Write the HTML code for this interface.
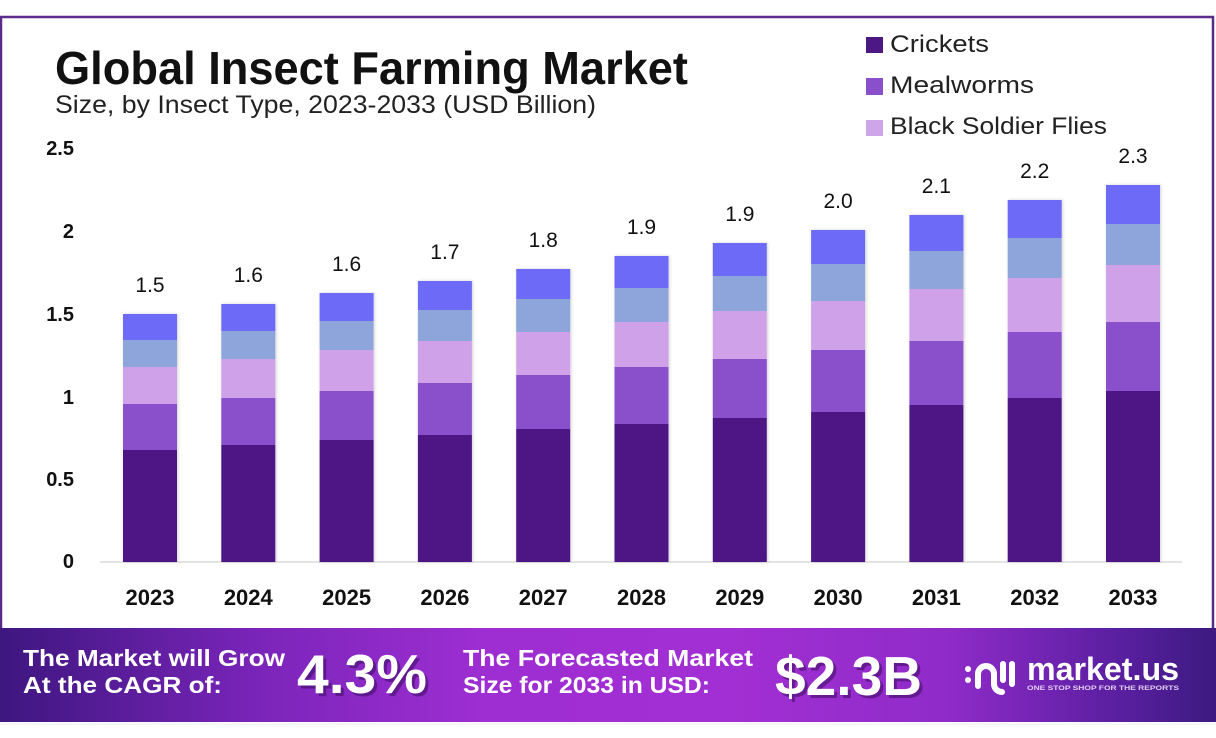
<!DOCTYPE html>
<html><head><meta charset="utf-8"><style>
html,body{margin:0;padding:0;background:#fff;}
svg{display:block;}
text{font-family:"Liberation Sans",Arial,sans-serif;}
</style></head><body>
<svg width="1216" height="738" viewBox="0 0 1216 738" xmlns="http://www.w3.org/2000/svg">
<defs>
<linearGradient id="bn" x1="0" y1="0" x2="1" y2="0">
<stop offset="0" stop-color="#3e1680"/>
<stop offset="0.22" stop-color="#7c25bb"/>
<stop offset="0.4" stop-color="#9e2ed2"/>
<stop offset="0.6" stop-color="#a22fd3"/>
<stop offset="0.78" stop-color="#8f2bc9"/>
<stop offset="0.92" stop-color="#5a1fa0"/>
<stop offset="1" stop-color="#3c1a80"/>
</linearGradient>
<filter id="sh" x="-20%" y="-5%" width="140%" height="110%">
<feDropShadow dx="1" dy="0" stdDeviation="1.5" flood-color="#000" flood-opacity="0.18"/>
</filter>
</defs>
<rect width="1216" height="738" fill="#fff"/>
<!-- frame -->
<path d="M1 628 V17 H1213 V628" fill="none" stroke="#5b2a8a" stroke-width="2.5"/>

<!-- title -->
<text x="55" y="84" font-size="46" font-weight="bold" fill="#111" textLength="633" lengthAdjust="spacingAndGlyphs">Global Insect Farming Market</text>
<text x="55" y="113" font-size="25" fill="#222" textLength="541" lengthAdjust="spacingAndGlyphs">Size, by Insect Type, 2023-2033 (USD Billion)</text>

<!-- legend -->
<rect x="866" y="37" width="17" height="16" fill="#4d1784"/>
<text x="890" y="52" font-size="24" fill="#222" textLength="99" lengthAdjust="spacingAndGlyphs">Crickets</text>
<rect x="866" y="78" width="17" height="17" fill="#8a4fcb"/>
<text x="890" y="93" font-size="24" fill="#222" textLength="144" lengthAdjust="spacingAndGlyphs">Mealworms</text>
<rect x="866" y="120" width="17" height="16" fill="#cfa5ea"/>
<text x="890" y="134" font-size="24" fill="#222" textLength="217" lengthAdjust="spacingAndGlyphs">Black Soldier Flies</text>

<!-- y axis labels -->
<g font-size="20" font-weight="bold" fill="#111" text-anchor="end">
<text x="74" y="155">2.5</text>
<text x="74" y="238">2</text>
<text x="74" y="321">1.5</text>
<text x="74" y="404">1</text>
<text x="74" y="486">0.5</text>
<text x="74" y="568">0</text>
</g>
<line x1="100" y1="562" x2="1182" y2="562" stroke="#dcdcdc" stroke-width="1.5"/>

<!-- bars -->
<g filter="url(#sh)">
<g transform="translate(123,0)">
<rect y="314" width="54" height="26" fill="#6e6af8"/><rect y="340" width="54" height="27" fill="#8ea5dc"/><rect y="367" width="54" height="37" fill="#cfa1e9"/><rect y="404" width="54" height="46" fill="#8a4fcb"/><rect y="450" width="54" height="112" fill="#4d1784"/></g>
<g transform="translate(221.3,0)">
<rect y="304" width="54" height="27" fill="#6e6af8"/><rect y="331" width="54" height="28" fill="#8ea5dc"/><rect y="359" width="54" height="39" fill="#cfa1e9"/><rect y="398" width="54" height="47" fill="#8a4fcb"/><rect y="445" width="54" height="117" fill="#4d1784"/></g>
<g transform="translate(319.6,0)">
<rect y="293" width="54" height="28" fill="#6e6af8"/><rect y="321" width="54" height="29" fill="#8ea5dc"/><rect y="350" width="54" height="41" fill="#cfa1e9"/><rect y="391" width="54" height="49" fill="#8a4fcb"/><rect y="440" width="54" height="122" fill="#4d1784"/></g>
<g transform="translate(417.9,0)">
<rect y="281" width="54" height="29" fill="#6e6af8"/><rect y="310" width="54" height="31" fill="#8ea5dc"/><rect y="341" width="54" height="42" fill="#cfa1e9"/><rect y="383" width="54" height="52" fill="#8a4fcb"/><rect y="435" width="54" height="127" fill="#4d1784"/></g>
<g transform="translate(516.2,0)">
<rect y="269" width="54" height="30" fill="#6e6af8"/><rect y="299" width="54" height="33" fill="#8ea5dc"/><rect y="332" width="54" height="43" fill="#cfa1e9"/><rect y="375" width="54" height="54" fill="#8a4fcb"/><rect y="429" width="54" height="133" fill="#4d1784"/></g>
<g transform="translate(614.5,0)">
<rect y="256" width="54" height="32" fill="#6e6af8"/><rect y="288" width="54" height="34" fill="#8ea5dc"/><rect y="322" width="54" height="45" fill="#cfa1e9"/><rect y="367" width="54" height="57" fill="#8a4fcb"/><rect y="424" width="54" height="138" fill="#4d1784"/></g>
<g transform="translate(712.8,0)">
<rect y="243" width="54" height="33" fill="#6e6af8"/><rect y="276" width="54" height="35" fill="#8ea5dc"/><rect y="311" width="54" height="48" fill="#cfa1e9"/><rect y="359" width="54" height="59" fill="#8a4fcb"/><rect y="418" width="54" height="144" fill="#4d1784"/></g>
<g transform="translate(811.1,0)">
<rect y="230" width="54" height="34" fill="#6e6af8"/><rect y="264" width="54" height="37" fill="#8ea5dc"/><rect y="301" width="54" height="49" fill="#cfa1e9"/><rect y="350" width="54" height="62" fill="#8a4fcb"/><rect y="412" width="54" height="150" fill="#4d1784"/></g>
<g transform="translate(909.4,0)">
<rect y="215" width="54" height="36" fill="#6e6af8"/><rect y="251" width="54" height="38" fill="#8ea5dc"/><rect y="289" width="54" height="52" fill="#cfa1e9"/><rect y="341" width="54" height="64" fill="#8a4fcb"/><rect y="405" width="54" height="157" fill="#4d1784"/></g>
<g transform="translate(1007.7,0)">
<rect y="200" width="54" height="38" fill="#6e6af8"/><rect y="238" width="54" height="40" fill="#8ea5dc"/><rect y="278" width="54" height="54" fill="#cfa1e9"/><rect y="332" width="54" height="66" fill="#8a4fcb"/><rect y="398" width="54" height="164" fill="#4d1784"/></g>
<g transform="translate(1106,0)">
<rect y="185" width="54" height="39" fill="#6e6af8"/><rect y="224" width="54" height="41" fill="#8ea5dc"/><rect y="265" width="54" height="57" fill="#cfa1e9"/><rect y="322" width="54" height="69" fill="#8a4fcb"/><rect y="391" width="54" height="171" fill="#4d1784"/></g>
</g>

<!-- value labels -->
<g font-size="21" fill="#111" text-anchor="middle">
<text x="150" y="292">1.5</text>
<text x="248.3" y="282">1.6</text>
<text x="346.6" y="271">1.6</text>
<text x="444.9" y="259">1.7</text>
<text x="543.2" y="247">1.8</text>
<text x="641.5" y="234">1.9</text>
<text x="739.8" y="221">1.9</text>
<text x="838.1" y="208">2.0</text>
<text x="936.4" y="193">2.1</text>
<text x="1034.7" y="178">2.2</text>
<text x="1133" y="163">2.3</text>
</g>

<!-- x labels -->
<g font-size="22" font-weight="bold" fill="#111" text-anchor="middle">
<text x="150" y="605">2023</text>
<text x="248.3" y="605">2024</text>
<text x="346.6" y="605">2025</text>
<text x="444.9" y="605">2026</text>
<text x="543.2" y="605">2027</text>
<text x="641.5" y="605">2028</text>
<text x="739.8" y="605">2029</text>
<text x="838.1" y="605">2030</text>
<text x="936.4" y="605">2031</text>
<text x="1034.7" y="605">2032</text>
<text x="1133" y="605">2033</text>
</g>

<!-- banner -->
<rect x="0" y="628" width="1216" height="94" fill="url(#bn)"/>
<line x1="0" y1="724" x2="1216" y2="724" stroke="#eee" stroke-width="1"/>
<g font-weight="bold" fill="#fff" font-size="23">
<text x="23" y="666" textLength="262" lengthAdjust="spacingAndGlyphs">The Market will Grow</text>
<text x="23" y="693" textLength="199" lengthAdjust="spacingAndGlyphs">At the CAGR of:</text>
<text x="463" y="666" textLength="290" lengthAdjust="spacingAndGlyphs">The Forecasted Market</text>
<text x="463" y="693" textLength="247" lengthAdjust="spacingAndGlyphs">Size for 2033 in USD:</text>
</g>
<g font-weight="bold" font-size="55">
<text x="300" y="696" fill="#3a0c60" fill-opacity="0.55" textLength="130" lengthAdjust="spacingAndGlyphs">4.3%</text>
<text x="297" y="693" fill="#fff" textLength="130" lengthAdjust="spacingAndGlyphs">4.3%</text>
<text x="778" y="698" fill="#3a0c60" fill-opacity="0.55" textLength="147" lengthAdjust="spacingAndGlyphs">$2.3B</text>
<text x="775" y="695" fill="#fff" textLength="147" lengthAdjust="spacingAndGlyphs">$2.3B</text>
</g>

<!-- logo -->
<g fill="none" stroke="#fff" stroke-width="6" stroke-linecap="round">
<path d="M978 686 V674 a8 8 0 0 1 16 0 V684 a8 8 0 0 0 8 8"/>
<line x1="1003" y1="664" x2="1003" y2="680"/>
<line x1="1012" y1="664" x2="1012" y2="684"/>
</g>
<circle cx="968" cy="669" r="3" fill="#fff"/>
<circle cx="968" cy="680" r="3" fill="#fff"/>
<text x="1027" y="680" font-size="32" font-weight="bold" fill="#fff" textLength="152" lengthAdjust="spacingAndGlyphs">market.us</text>
<text x="1027" y="690" font-size="6" font-weight="bold" fill="#e4cdf7" textLength="152" lengthAdjust="spacingAndGlyphs">ONE STOP SHOP FOR THE REPORTS</text>
</svg>
</body></html>
